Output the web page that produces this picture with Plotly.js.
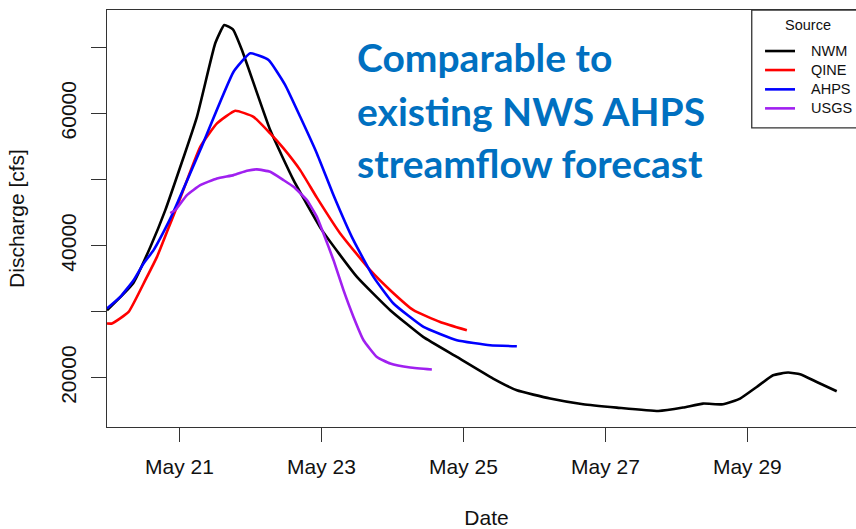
<!DOCTYPE html>
<html>
<head>
<meta charset="utf-8">
<script src="https://cdn.plot.ly/plotly-3.0.1.min.js"></script>
<style>
html, body { margin:0; padding:0; overflow:hidden; background:#fff; }
#chart { width:880px; height:529px; }
</style>
</head>
<body>
<div id="chart"></div>
<script>
// NWM
const nwmTime = ["2018-05-19 23:28","2018-05-20 08:20","2018-05-20 14:05","2018-05-20 19:11","2018-05-21 05:53","2018-05-21 12:04","2018-05-21 15:07","2018-05-21 18:03","2018-05-21 21:06","2018-05-22 06:39","2018-05-22 14:33","2018-05-23 00:09","2018-05-23 11:59","2018-05-23 23:14","2018-05-24 10:22","2018-05-24 21:46","2018-05-25 10:02","2018-05-25 18:03","2018-05-26 05:18","2018-05-26 16:28","2018-05-27 03:52","2018-05-27 17:54","2018-05-28 02:15","2018-05-28 09:01","2018-05-28 15:47","2018-05-28 21:32","2018-05-29 03:10","2018-05-29 08:41","2018-05-29 13:47","2018-05-29 17:50","2018-05-29 23:28","2018-05-30 06:13"];
const nwmQ = [30220,34307,39758,45360,59485,70600,73369,72720,69585,57472,49902,42332,35261,30220,26177,23149,19879,18108,16851,15988,15488,14973,15488,16094,15988,16851,18607,20378,20787,20530,19364,17956];

// QINE
const qineTime = ["2018-05-19 23:28","2018-05-20 01:09","2018-05-20 06:46","2018-05-20 12:25","2018-05-20 16:22","2018-05-20 19:45","2018-05-20 23:07","2018-05-21 07:00","2018-05-21 12:39","2018-05-21 18:50","2018-05-22 01:00","2018-05-22 06:39","2018-05-22 11:10","2018-05-22 16:48","2018-05-22 22:26","2018-05-23 06:19","2018-05-23 16:28","2018-05-23 23:14","2018-05-24 07:06","2018-05-24 16:08","2018-05-25 01:09"];
const qineQ = [28206,28206,29962,34762,38289,42075,45860,54943,58486,60394,59485,56972,54701,51415,47252,41832,36276,33248,30220,28448,27191];

// AHPS
const ahpsTime = ["2018-05-19 23:28","2018-05-20 03:58","2018-05-20 08:27","2018-05-20 11:50","2018-05-20 15:13","2018-05-20 18:36","2018-05-20 21:26","2018-05-20 23:40","2018-05-21 07:00","2018-05-21 18:16","2018-05-21 23:54","2018-05-22 06:06","2018-05-22 11:44","2018-05-22 16:48","2018-05-22 22:26","2018-05-23 04:04","2018-05-23 10:48","2018-05-23 17:34","2018-05-24 00:20","2018-05-24 10:29","2018-05-24 21:46","2018-05-25 09:01","2018-05-25 18:03"];
const ahpsQ = [30477,32233,34762,37290,39304,42075,44603,46874,54444,66299,69085,68071,64286,59485,53944,47631,40818,35261,31234,27691,25678,24921,24770];

// USGS
const usgsTime = ["2018-05-20 20:52","2018-05-20 22:32","2018-05-21 02:30","2018-05-21 07:00","2018-05-21 12:39","2018-05-21 18:16","2018-05-21 22:47","2018-05-22 02:10","2018-05-22 06:39","2018-05-22 11:10","2018-05-22 14:33","2018-05-22 19:03","2018-05-22 22:26","2018-05-23 00:40","2018-05-23 04:04","2018-05-23 07:26","2018-05-23 10:49","2018-05-23 14:13","2018-05-23 18:43","2018-05-23 23:14","2018-05-24 06:00","2018-05-24 13:19"];
const usgsQ = [44905,45360,47631,49145,50159,50659,51310,51522,51159,49902,48888,46874,44346,41832,37790,33248,29205,25678,23149,22150,21544,21241];

// Axis ticks
const xTickVals = ["2018-05-21","2018-05-23","2018-05-25","2018-05-27","2018-05-29"];
const xTickText = ["May 21","May 23","May 25","May 27","May 29"];
const yTickVals = [20000,30000,40000,50000,60000,70000];
const yTickText = ["20000","","40000","","60000",""];

const seriesNames = ["NWM","QINE","AHPS","USGS"];
const legendTitle = "Source";
const noteLines = ["Comparable to","existing NWS AHPS","streamflow forecast"];

const colors = ["#000000","#ff0000","#0000ff","#a020f0"];
const xs = [nwmTime, qineTime, ahpsTime, usgsTime];
const ys = [nwmQ, qineQ, ahpsQ, usgsQ];

const traces = seriesNames.map((n,i)=>({
  type:"scatter", mode:"lines", name:n, x:xs[i], y:ys[i], showlegend:false,
  line:{color:colors[i], width:2.6, shape:"spline", smoothing:0.4}
}));

const font = "Liberation Sans, Arial, sans-serif";
const plotL = 106.7, plotR = 866, plotTop = 10, plotBottom = 426.7;
const px = v => (v - plotL)/(plotR - plotL);
const py = v => (plotBottom - v)/(plotBottom - plotTop);

const noteY = [57, 111, 163];
const annotations = noteLines.map((t,i)=>({
  text:t, xref:"paper", yref:"paper",
  x:px(355), y:py(noteY[i]),
  xanchor:"left", yanchor:"middle", showarrow:false,
  font:{family:"Lato, sans-serif", size:39, color:"#0070c0", weight:"bold"}
}));

// manual R-style legend box
const legY = [51, 70, 89.3, 108.3];
const shapes = [{
  type:"rect", xref:"paper", yref:"paper", layer:"above",
  x0:px(751.7), x1:px(874), y0:py(127.7), y1:py(plotTop),
  line:{color:"#333", width:1.3}, fillcolor:"#fff"
}];
seriesNames.forEach((n,i)=>{
  shapes.push({type:"line", xref:"paper", yref:"paper", layer:"above",
    x0:px(765), x1:px(795), y0:py(legY[i]), y1:py(legY[i]),
    line:{color:colors[i], width:2.6}});
  annotations.push({text:n, xref:"paper", yref:"paper", x:px(809), y:py(legY[i]),
    xanchor:"left", yanchor:"middle", showarrow:false,
    font:{family:font, size:14.5, color:"#111"}});
});
annotations.push({text:legendTitle, xref:"paper", yref:"paper", x:px(808), y:py(24.5),
  xanchor:"center", yanchor:"middle", showarrow:false,
  font:{family:font, size:14.5, color:"#111"}});

const layout = {
  width:880, height:529,
  margin:{l:plotL, r:880-plotR, t:plotTop, b:529-plotBottom},
  paper_bgcolor:"#fff", plot_bgcolor:"#fff",
  showlegend:false,
  shapes:shapes,
  xaxis:{
    type:"date", range:["2018-05-19 23:28","2018-05-30 16:07"],
    tickmode:"array", tickvals:xTickVals, ticktext:xTickText,
    ticks:"outside", ticklen:14, tickwidth:1.2, tickcolor:"#333",
    showline:true, linecolor:"#333", linewidth:1.3, mirror:true,
    showgrid:false, zeroline:false,
    tickfont:{family:font, size:21, color:"#111"},
    ticklabelstandoff:6,
    title:{text:"Date", font:{family:font, size:21, color:"#111"}, standoff:33}
  },
  yaxis:{
    range:[12551,75640],
    tickmode:"array", tickvals:yTickVals, ticktext:yTickText,
    ticks:"outside", ticklen:15, tickwidth:1.2, tickcolor:"#333",
    showline:true, linecolor:"#333", linewidth:1.3, mirror:true,
    showgrid:false, zeroline:false, tickangle:-90,
    tickfont:{family:font, size:21, color:"#111"},
    ticklabelstandoff:6,
    title:{text:"Discharge [cfs]", font:{family:font, size:21, color:"#111"}, standoff:27}
  },
  annotations:annotations
};

Plotly.newPlot("chart", traces, layout, {displayModeBar:false, staticPlot:true});
</script>
</body>
</html>
